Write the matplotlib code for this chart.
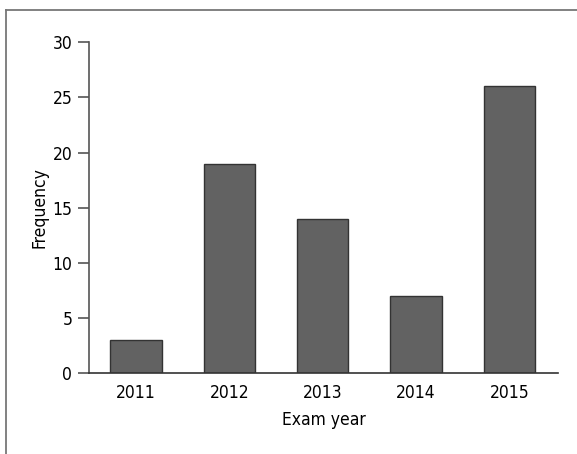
import matplotlib.pyplot as plt
from matplotlib.lines import Line2D

plt.rcParams["font.family"] = ["DejaVu Sans"]
plt.rcParams["font.stretch"] = "condensed"

years = ["2011", "2012", "2013", "2014", "2015"]
frequency = [3, 19, 14, 7, 26]
y_ticks = [0, 5, 10, 15, 20, 25, 30]

fig = plt.figure(figsize=(5.77, 4.54), dpi=100)
ax = fig.add_axes([0.1542, 0.178, 0.8128, 0.729])

x = list(range(len(years)))
ax.bar(x, frequency, width=0.55, color="#626262", edgecolor="#333333", linewidth=1.0)

ax.set_xlim(-0.504, 4.52)
ax.set_ylim(0, 30)
ax.set_xticks(x)
ax.set_xticklabels(years)
ax.set_yticks(y_ticks)

for side in ["top", "right"]:
    ax.spines[side].set_visible(False)
ax.spines["left"].set_color("#555555")
ax.spines["bottom"].set_color("#333333")
ax.spines["left"].set_linewidth(1.2)
ax.spines["bottom"].set_linewidth(1.2)

ax.tick_params(axis="y", length=8, width=1.2, color="#555555", labelsize=12.5, pad=4)
ax.tick_params(axis="x", length=0, labelsize=12.5, pad=8)

ax.set_xlabel("Exam year", fontsize=12.5, labelpad=6)
ax.set_ylabel("Frequency", fontsize=12.5, labelpad=3)

# outer frame (top and left edges only)
fig.add_artist(Line2D([6 / 577, 1.0], [1 - 10 / 454, 1 - 10 / 454], color="#777777", linewidth=1.3, transform=fig.transFigure))
fig.add_artist(Line2D([6 / 577, 6 / 577], [0.0, 1 - 10 / 454], color="#777777", linewidth=1.3, transform=fig.transFigure))

fig.savefig("out.png", dpi=100)
